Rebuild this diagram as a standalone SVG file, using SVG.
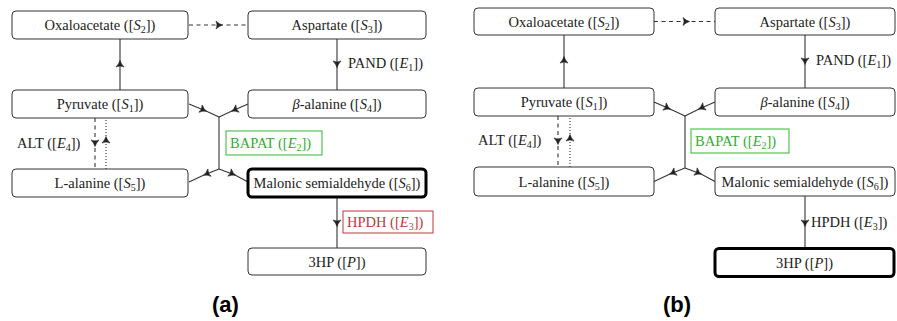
<svg xmlns="http://www.w3.org/2000/svg" width="897" height="321" viewBox="0 0 897 321">
<defs>
<style>
.box{fill:#fff;stroke:#333;stroke-width:1}
.bold{fill:#fff;stroke:#000;stroke-width:3}
.t{font-family:'Liberation Serif','Times New Roman',serif;font-size:14.5px;fill:#222;text-anchor:middle}
.lbl{font-family:'Liberation Serif','Times New Roman',serif;font-size:14.5px;fill:#222}
.i{font-style:italic}
.s{font-size:10px}
.ln{fill:none;stroke:#333;stroke-width:1.1}
.dash{stroke-dasharray:4,3.5}
.dot{stroke-dasharray:1,2}
.green{fill:#fff;stroke:#33b533;stroke-width:1}
.red{fill:#fff;stroke:#c0393b;stroke-width:1}
.cap{font-family:'Liberation Sans',Arial,sans-serif;font-weight:bold;font-size:22px;fill:#000;text-anchor:middle}
</style>
<marker id="ah" viewBox="-8 -5 10 10" markerWidth="10" markerHeight="10" refX="0" refY="0" orient="auto" markerUnits="userSpaceOnUse">
<path d="M0.5,0 Q-3,-1 -6,-4 Q-4,0 -6,4 Q-3,1 0.5,0 Z" fill="#222" stroke="#222" stroke-width="0.6" stroke-linejoin="round"/>
</marker>
</defs>

<g id="connectors">
<path class="ln dash" d="M189,25 L222,25 L248,25" marker-mid="url(#ah)"/>
<path class="ln" d="M120,90 L120,61 L120,39" marker-mid="url(#ah)"/>
<path class="ln" d="M337,39 L337,67 L337,90" marker-mid="url(#ah)"/>
<path class="ln" d="M189,104 L206,111 L219,117" marker-mid="url(#ah)"/>
<path class="ln" d="M248,104 L232,111 L219,117" marker-mid="url(#ah)"/>
<path class="ln" d="M219,117 L219,169"/>
<path class="ln" d="M219,169 L204,175 L189,182" marker-mid="url(#ah)"/>
<path class="ln" d="M219,169 L235,175 L248,182" marker-mid="url(#ah)"/>
<path class="ln dash" d="M95,118 L95,146 L95,169" marker-mid="url(#ah)"/>
<path class="ln dot" d="M106,169 L106,137 L106,118" marker-mid="url(#ah)"/>
<path class="ln" d="M337,197 L337,226 L337,248" marker-mid="url(#ah)"/>
<path class="ln dash" d="M654,21.5 L689,21.5 L715,21.5" marker-mid="url(#ah)"/>
<path class="ln" d="M564,88 L564,57 L564,35" marker-mid="url(#ah)"/>
<path class="ln" d="M805,35 L805,64 L805,88" marker-mid="url(#ah)"/>
<path class="ln" d="M654,102 L670,109 L685,116" marker-mid="url(#ah)"/>
<path class="ln" d="M715,102 L699,109 L685,116" marker-mid="url(#ah)"/>
<path class="ln" d="M685,116 L685,168"/>
<path class="ln" d="M685,168 L670,174 L654,181.5" marker-mid="url(#ah)"/>
<path class="ln" d="M685,168 L701,174 L715,181.5" marker-mid="url(#ah)"/>
<path class="ln dash" d="M558,116 L558,144 L558,167" marker-mid="url(#ah)"/>
<path class="ln dot" d="M570,167 L570,135 L570,116" marker-mid="url(#ah)"/>
<path class="ln" d="M805,196 L805,226 L805,248" marker-mid="url(#ah)"/>
</g>

<g id="a-oxaloacetate">
<rect class="box" x="12" y="11" width="176" height="28" rx="4"/>
<text class="t" x="100" y="30">Oxaloacetate ([<tspan class="i">S</tspan><tspan class="s" dy="3">2</tspan><tspan dy="-3">])</tspan></text>
</g>
<g id="a-aspartate">
<rect class="box" x="248" y="11" width="178" height="28" rx="4"/>
<text class="t" x="337" y="30">Aspartate ([<tspan class="i">S</tspan><tspan class="s" dy="3">3</tspan><tspan dy="-3">])</tspan></text>
</g>
<g id="a-pyruvate">
<rect class="box" x="12" y="90" width="176" height="28" rx="4"/>
<text class="t" x="100" y="109">Pyruvate ([<tspan class="i">S</tspan><tspan class="s" dy="3">1</tspan><tspan dy="-3">])</tspan></text>
</g>
<g id="a-balanine">
<rect class="box" x="248" y="90" width="178" height="28" rx="4"/>
<text class="t" x="337" y="109"><tspan class="i">β</tspan>-alanine ([<tspan class="i">S</tspan><tspan class="s" dy="3">4</tspan><tspan dy="-3">])</tspan></text>
</g>
<g id="a-lalanine">
<rect class="box" x="12" y="169" width="176" height="28" rx="4"/>
<text class="t" x="100" y="188">L-alanine ([<tspan class="i">S</tspan><tspan class="s" dy="3">5</tspan><tspan dy="-3">])</tspan></text>
</g>
<g id="a-malonic">
<rect class="bold" x="248" y="169" width="178" height="28" rx="4"/>
<text class="t" x="337" y="188">Malonic semialdehyde ([<tspan class="i">S</tspan><tspan class="s" dy="3">6</tspan><tspan dy="-3">])</tspan></text>
</g>
<g id="a-3hp">
<rect class="box" x="248" y="248" width="178" height="27" rx="4"/>
<text class="t" x="337" y="266.5">3HP ([<tspan class="i">P</tspan>])</text>
</g>
<g id="a-labels">
<text class="lbl" x="348" y="68">PAND ([<tspan class="i">E</tspan><tspan class="s" dy="3">1</tspan><tspan dy="-3">])</tspan></text>
<text class="lbl" x="17" y="148">ALT ([<tspan class="i">E</tspan><tspan class="s" dy="3">4</tspan><tspan dy="-3">])</tspan></text>
<rect class="green" x="226" y="131" width="96" height="24"/>
<text class="lbl" x="230" y="148" style="fill:#2fae2f">BAPAT ([<tspan class="i">E</tspan><tspan class="s" dy="3">2</tspan><tspan dy="-3">])</tspan></text>
<rect class="red" x="343" y="211" width="90" height="22"/>
<text class="lbl" x="347" y="227" style="fill:#c0393b">HPDH ([<tspan class="i">E</tspan><tspan class="s" dy="3">3</tspan><tspan dy="-3">])</tspan></text>
<text class="cap" x="225.5" y="312">(a)</text>
</g>

<g id="b-oxaloacetate">
<rect class="box" x="474" y="8" width="180" height="27" rx="4"/>
<text class="t" x="564" y="26.5">Oxaloacetate ([<tspan class="i">S</tspan><tspan class="s" dy="3">2</tspan><tspan dy="-3">])</tspan></text>
</g>
<g id="b-aspartate">
<rect class="box" x="715" y="8" width="180" height="27" rx="4"/>
<text class="t" x="805" y="26.5">Aspartate ([<tspan class="i">S</tspan><tspan class="s" dy="3">3</tspan><tspan dy="-3">])</tspan></text>
</g>
<g id="b-pyruvate">
<rect class="box" x="474" y="88" width="180" height="28" rx="4"/>
<text class="t" x="564" y="107">Pyruvate ([<tspan class="i">S</tspan><tspan class="s" dy="3">1</tspan><tspan dy="-3">])</tspan></text>
</g>
<g id="b-balanine">
<rect class="box" x="715" y="88" width="180" height="28" rx="4"/>
<text class="t" x="805" y="107"><tspan class="i">β</tspan>-alanine ([<tspan class="i">S</tspan><tspan class="s" dy="3">4</tspan><tspan dy="-3">])</tspan></text>
</g>
<g id="b-lalanine">
<rect class="box" x="474" y="167" width="180" height="29" rx="4"/>
<text class="t" x="564" y="186.5">L-alanine ([<tspan class="i">S</tspan><tspan class="s" dy="3">5</tspan><tspan dy="-3">])</tspan></text>
</g>
<g id="b-malonic">
<rect class="box" x="715" y="167" width="180" height="29" rx="4"/>
<text class="t" x="805" y="186.5">Malonic semialdehyde ([<tspan class="i">S</tspan><tspan class="s" dy="3">6</tspan><tspan dy="-3">])</tspan></text>
</g>
<g id="b-3hp">
<rect class="bold" x="715" y="248.5" width="179" height="28" rx="4"/>
<text class="t" x="804.5" y="267.5">3HP ([<tspan class="i">P</tspan>])</text>
</g>
<g id="b-labels">
<text class="lbl" x="816" y="65">PAND ([<tspan class="i">E</tspan><tspan class="s" dy="3">1</tspan><tspan dy="-3">])</tspan></text>
<text class="lbl" x="478" y="145">ALT ([<tspan class="i">E</tspan><tspan class="s" dy="3">4</tspan><tspan dy="-3">])</tspan></text>
<rect class="green" x="691" y="129" width="98" height="24"/>
<text class="lbl" x="695" y="146" style="fill:#2fae2f">BAPAT ([<tspan class="i">E</tspan><tspan class="s" dy="3">2</tspan><tspan dy="-3">])</tspan></text>
<text class="lbl" x="811" y="227">HPDH ([<tspan class="i">E</tspan><tspan class="s" dy="3">3</tspan><tspan dy="-3">])</tspan></text>
<text class="cap" x="677" y="312">(b)</text>
</g>
</svg>
